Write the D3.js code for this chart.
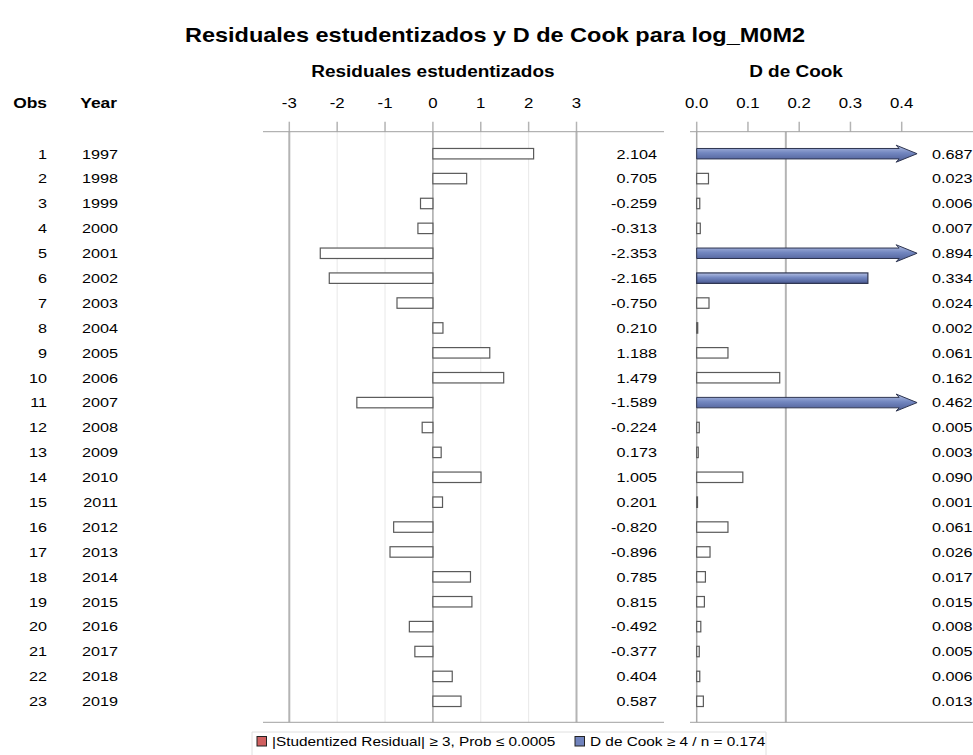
<!doctype html>
<html lang="es">
<head>
<meta charset="utf-8">
<title>Residuales estudentizados y D de Cook</title>
<style>
  body { margin: 0; background: #fff; font-family: "Liberation Sans", Arial, sans-serif; }
  svg text { fill: #000; }
</style>
</head>
<body>
<svg width="973" height="755"></svg>
<script src="https://d3js.org/d3.v7.min.js"></script>
<script>
// data
var obs = d3.range(1, 24);
var years = [1997, 1998, 1999, 2000, 2001, 2002, 2003, 2004, 2005, 2006, 2007, 2008,
             2009, 2010, 2011, 2012, 2013, 2014, 2015, 2016, 2017, 2018, 2019];
var residuals = [2.104, 0.705, -0.259, -0.313, -2.353, -2.165, -0.750, 0.210, 1.188, 1.479,
                 -1.589, -0.224, 0.173, 1.005, 0.201, -0.820, -0.896, 0.785, 0.815, -0.492,
                 -0.377, 0.404, 0.587];
var cooks = [0.687, 0.023, 0.006, 0.007, 0.894, 0.334, 0.024, 0.002, 0.061, 0.162, 0.462,
             0.005, 0.003, 0.090, 0.001, 0.061, 0.026, 0.017, 0.015, 0.008, 0.005, 0.006, 0.013];
var residTicks = [-3, -2, -1, 0, 1, 2, 3];
var cookTicks = [0.0, 0.1, 0.2, 0.3, 0.4];
var cookCut = 4 / 23;

var svg = d3.select("svg");
var SX = 1.2; // the original picture is a little wider than tall, text included

// text helper: stretched horizontally around its anchor point
function label(parent, x, y, str, size, opts) {
  opts = opts || {};
  return parent.append("text")
    .attr("transform", "translate(" + x + "," + y + ") scale(" + SX + ",1)")
    .attr("font-size", size)
    .attr("font-weight", opts.bold ? "bold" : null)
    .attr("text-anchor", opts.anchor || "start")
    .attr("dy", opts.dy || null)
    .text(str);
}

// gradient for influential bars
var defs = svg.append("defs");
var grad = defs.append("linearGradient").attr("id", "blueGrad")
    .attr("x1", 0).attr("y1", 0).attr("x2", 0).attr("y2", 1);
grad.append("stop").attr("offset", "0%").attr("stop-color", "#b4c0e4");
grad.append("stop").attr("offset", "45%").attr("stop-color", "#7387c0");
grad.append("stop").attr("offset", "100%").attr("stop-color", "#4a5a92");

// scales
var y = d3.scaleBand().domain(obs).range([142, 713]).paddingInner(0.58).paddingOuter(0.26);
var xr = d3.scaleLinear().domain([-3, 3]).range([289.3, 576.5]);
var xc = d3.scaleLinear().domain([0, 0.4]).range([696.7, 901.7]);

var axisY = 131.7, bottomY = 722.3, tickTop = 121.7;
var rowMid = function(i) { return y(obs[i]) + y.bandwidth() / 2; };

// title and headers
label(svg, 495, 42, "Residuales estudentizados y D de Cook para log_M0M2", 19.6, {bold: true, anchor: "middle"});
label(svg, xr(0), 77, "Residuales estudentizados", 15.8, {bold: true, anchor: "middle"});
label(svg, 796, 77, "D de Cook", 15.8, {bold: true, anchor: "middle"});
label(svg, 47, 108, "Obs", 14.5, {bold: true, anchor: "end"});
label(svg, 117, 108, "Year", 14.5, {bold: true, anchor: "end"});

// residual panel
var gr = svg.append("g");
gr.selectAll(".grid").data(residTicks).enter().append("line")
    .attr("x1", d => xr(d)).attr("x2", d => xr(d))
    .attr("y1", axisY).attr("y2", bottomY)
    .attr("stroke", d => Math.abs(d) === 3 ? "#b4b4b4" : (d === 0 ? "#a8a8a8" : "#e8e8e8"))
    .attr("stroke-width", d => Math.abs(d) === 3 ? 2 : (d === 0 ? 1.5 : 1));
gr.selectAll(".tick").data(residTicks).enter().append("line")
    .attr("x1", d => xr(d)).attr("x2", d => xr(d))
    .attr("y1", tickTop).attr("y2", axisY)
    .attr("stroke", "#b4b4b4").attr("stroke-width", 1.5);
residTicks.forEach(function(d) {
  label(gr, xr(d), 108, String(d), 14, {anchor: "middle"});
});
gr.append("line").attr("x1", 263).attr("x2", 664).attr("y1", axisY).attr("y2", axisY)
    .attr("stroke", "#a0a0a0");
gr.append("line").attr("x1", 263).attr("x2", 664).attr("y1", bottomY).attr("y2", bottomY)
    .attr("stroke", "#a0a0a0");

gr.selectAll(".bar").data(residuals).enter().append("rect")
    .attr("x", d => Math.min(xr(0), xr(d)))
    .attr("y", (d, i) => y(obs[i]))
    .attr("width", d => Math.abs(xr(d) - xr(0)))
    .attr("height", y.bandwidth())
    .attr("fill", d => Math.abs(d) >= 3 ? "#d06060" : "#fff")
    .attr("stroke", "#5a5a5a").attr("stroke-width", 1.2);

residuals.forEach(function(d, i) {
  label(gr, 657, rowMid(i), d.toFixed(3), 13.5, {anchor: "end", dy: "0.36em"});
});

// row labels
obs.forEach(function(d, i) {
  label(svg, 47, rowMid(i), d, 13.5, {anchor: "end", dy: "0.36em"});
  label(svg, 118, rowMid(i), years[i], 13.5, {anchor: "end", dy: "0.36em"});
});

// cook panel
var gc = svg.append("g");
gc.selectAll(".tick").data(cookTicks).enter().append("line")
    .attr("x1", d => xc(d)).attr("x2", d => xc(d))
    .attr("y1", tickTop).attr("y2", axisY)
    .attr("stroke", "#b4b4b4").attr("stroke-width", 1.5);
cookTicks.forEach(function(d) {
  label(gc, xc(d), 108, d.toFixed(1), 14, {anchor: "middle"});
});
gc.append("line").attr("x1", xc(0)).attr("x2", xc(0)).attr("y1", axisY).attr("y2", bottomY)
    .attr("stroke", "#a8a8a8").attr("stroke-width", 1.5);
gc.append("line").attr("x1", xc(cookCut)).attr("x2", xc(cookCut)).attr("y1", axisY).attr("y2", bottomY)
    .attr("stroke", "#b4b4b4").attr("stroke-width", 2);
gc.append("line").attr("x1", 690).attr("x2", 973).attr("y1", axisY).attr("y2", axisY)
    .attr("stroke", "#a0a0a0");
gc.append("line").attr("x1", 690).attr("x2", 973).attr("y1", bottomY).attr("y2", bottomY)
    .attr("stroke", "#a0a0a0");

var bodyEnd = xc(0.395), tipX = xc(0.43);
cooks.forEach(function(d, i) {
  var top = y(obs[i]), h = y.bandwidth(), mid = top + h / 2;
  var infl = d >= cookCut;
  if (d > 0.43) {
    // off-scale value: arrow pointing past the axis end
    var hh = 8.5;
    var p = d3.path();
    p.moveTo(xc(0), top);
    p.lineTo(bodyEnd, top);
    p.lineTo(bodyEnd - 3, mid - hh);
    p.lineTo(tipX, mid);
    p.lineTo(bodyEnd - 3, mid + hh);
    p.lineTo(bodyEnd, top + h);
    p.lineTo(xc(0), top + h);
    p.closePath();
    gc.append("path").attr("d", p.toString())
      .attr("fill", "url(#blueGrad)").attr("stroke", "#2e3550").attr("stroke-width", 1);
  } else {
    gc.append("rect").attr("x", xc(0)).attr("y", top)
      .attr("width", Math.max(xc(d) - xc(0), 0.8)).attr("height", h)
      .attr("fill", infl ? "url(#blueGrad)" : "#fff")
      .attr("stroke", infl ? "#2e3550" : "#5a5a5a").attr("stroke-width", 1.2);
  }
});
cooks.forEach(function(d, i) {
  label(gc, 932, rowMid(i), d.toFixed(3), 13.5, {dy: "0.36em"});
});

// legend
var lg = svg.append("g");
lg.append("line").attr("x1", 252).attr("x2", 766).attr("y1", 732).attr("y2", 732)
    .attr("stroke", "#e0e0e0");
lg.append("line").attr("x1", 252).attr("x2", 252).attr("y1", 732).attr("y2", 755)
    .attr("stroke", "#e0e0e0");
lg.append("line").attr("x1", 766).attr("x2", 766).attr("y1", 732).attr("y2", 755)
    .attr("stroke", "#e0e0e0");
var legendItems = [
  {label: "|Studentized Residual| \u2265 3, Prob \u2264 0.0005", color: "#d06060", x: 257},
  {label: "D de Cook \u2265 4 / n = 0.174", color: "#7083bd", x: 575}
];
legendItems.forEach(function(d) {
  lg.append("rect").attr("x", d.x).attr("y", 736.5).attr("width", 9.5).attr("height", 9.5)
    .attr("fill", d.color).attr("stroke", "#222").attr("stroke-width", 1);
  label(lg, d.x + 15, 741.5, d.label, 12.8, {dy: "0.36em"});
});
</script>
</body>
</html>
